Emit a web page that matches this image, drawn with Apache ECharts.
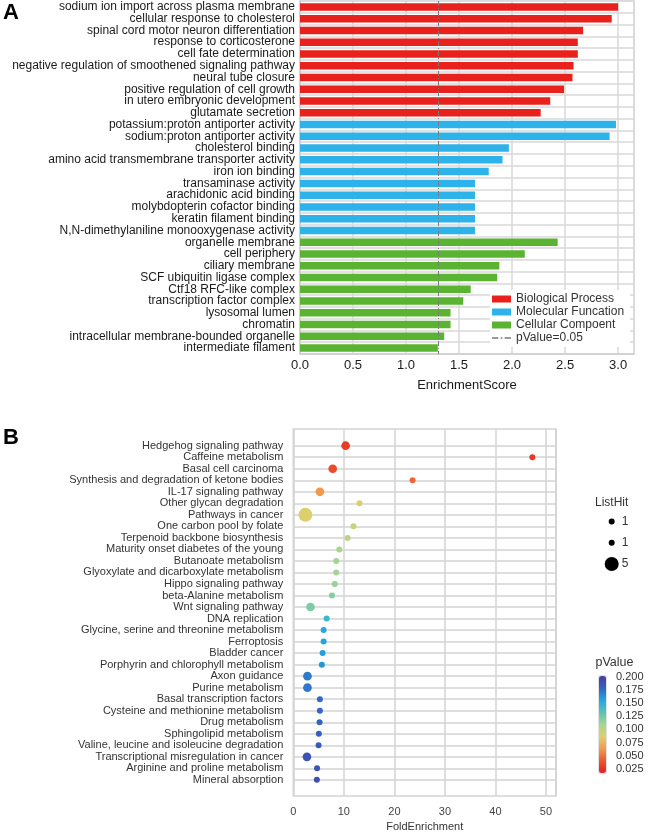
<!DOCTYPE html>
<html><head><meta charset="utf-8">
<script src="https://cdn.jsdelivr.net/npm/echarts@6/dist/echarts.min.js"></script>
<style>html,body{margin:0;padding:0;background:#fff}#c{width:660px;height:833px}</style>
</head><body><div id="c"></div>
<script>
// ---------- Panel A data ----------
const bpTerms = ['sodium ion import across plasma membrane','cellular response to cholesterol','spinal cord motor neuron differentiation','response to corticosterone','cell fate determination','negative regulation of smoothened signaling pathway','neural tube closure','positive regulation of cell growth','in utero embryonic development','glutamate secretion'];
const bpScores = [3.00, 2.94, 2.67, 2.62, 2.62, 2.58, 2.57, 2.49, 2.36, 2.27];
const mfTerms = ['potassium:proton antiporter activity','sodium:proton antiporter activity','cholesterol binding','amino acid transmembrane transporter activity','iron ion binding','transaminase activity','arachidonic acid binding','molybdopterin cofactor binding','keratin filament binding','N,N-dimethylaniline monooxygenase activity'];
const mfScores = [2.98, 2.92, 1.97, 1.91, 1.78, 1.65, 1.65, 1.65, 1.65, 1.65];
const ccTerms = ['organelle membrane','cell periphery','ciliary membrane','SCF ubiquitin ligase complex','Ctf18 RFC-like complex','transcription factor complex','lysosomal lumen','chromatin','intracellular membrane-bounded organelle','intermediate filament'];
const ccScores = [2.43, 2.12, 1.88, 1.86, 1.61, 1.54, 1.42, 1.42, 1.36, 1.30];
const groupNames = ['Biological Process','Molecular Funcation','Cellular Compoent'];
const pValueCutoff = 0.05;
const cutoffName = 'pValue=0.05';

// ---------- Panel B data ----------
const pathways = ['Hedgehog signaling pathway','Caffeine metabolism','Basal cell carcinoma','Synthesis and degradation of ketone bodies','IL-17 signaling pathway','Other glycan degradation','Pathways in cancer','One carbon pool by folate','Terpenoid backbone biosynthesis','Maturity onset diabetes of the young','Butanoate metabolism','Glyoxylate and dicarboxylate metabolism','Hippo signaling pathway','beta-Alanine metabolism','Wnt signaling pathway','DNA replication','Glycine, serine and threonine metabolism','Ferroptosis','Bladder cancer','Porphyrin and chlorophyll metabolism','Axon guidance','Purine metabolism','Basal transcription factors','Cysteine and methionine metabolism','Drug metabolism','Sphingolipid metabolism','Valine, leucine and isoleucine degradation','Transcriptional misregulation in cancer','Arginine and proline metabolism','Mineral absorption'];
const foldEnrichment = [10.35, 47.3, 7.8, 23.6, 5.26, 13.1, 2.4, 11.9, 10.75, 9.1, 8.5, 8.5, 8.2, 7.65, 3.4, 6.6, 6.0, 6.0, 5.8, 5.65, 2.8, 2.8, 5.26, 5.26, 5.2, 5.06, 5.0, 2.7, 4.7, 4.66];
const pValues = [0.030, 0.028, 0.036, 0.046, 0.063, 0.088, 0.086, 0.095, 0.100, 0.108, 0.112, 0.112, 0.115, 0.120, 0.123, 0.145, 0.155, 0.157, 0.160, 0.163, 0.172, 0.173, 0.178, 0.178, 0.180, 0.182, 0.184, 0.188, 0.190, 0.192];
const listHits = [2, 1, 2, 1, 2, 1, 5, 1, 1, 1, 1, 1, 1, 1, 2, 1, 1, 1, 1, 1, 2, 2, 1, 1, 1, 1, 1, 2, 1, 1];
const listHitLegendValues = [1, 1, 5];
const listHitLegendLabels = ['1', '1', '5'];

// ---------- helpers ----------
const FONT = '"Liberation Sans", Arial, Helvetica, sans-serif';
const termsA = bpTerms.concat(mfTerms, ccTerms);
function padded(values, offset) {
  return termsA.map((_, i) => (i >= offset && i < offset + values.length) ? values[i - offset] : '-');
}
function dotSize(v) { return 6.5 * Math.sqrt(v) - 0.5; }
const rowIdx = pathways.map((_, i) => i);
const gridColor = '#d9d9d9';
const cutLine = { color: '#7a7a7a', type: [5, 2, 1, 2], width: 1 };
const dashDotIcon = 'path://M0,3h6v1.3h-6zM8.2,3h1.6v1.3h-1.6zM12,3h6v1.3h-6z';

const chart = echarts.init(document.getElementById('c'), null, { renderer: 'canvas' });
chart.setOption({
  animation: false,
  textStyle: { fontFamily: FONT },
  title: [
    { text: 'A', left: 3, top: 2, padding: 0, textStyle: { fontSize: 22, fontWeight: 'bold', color: '#000', fontFamily: FONT } },
    { text: 'B', left: 3, top: 427, padding: 0, textStyle: { fontSize: 22, fontWeight: 'bold', color: '#000', fontFamily: FONT } },
    { text: 'ListHit', left: 595, top: 497, padding: 0, textStyle: { fontSize: 12, fontWeight: 'normal', color: '#333', fontFamily: FONT } },
    { text: 'pValue', left: 595.5, top: 656, padding: 0, textStyle: { fontSize: 12.5, fontWeight: 'normal', color: '#333', fontFamily: FONT } }
  ],
  legend: {
    orient: 'vertical', left: 490, top: 290, itemWidth: 19, itemHeight: 7, itemGap: 1,
    backgroundColor: '#fff', padding: [3, 6, 3, 2],
    textStyle: { fontSize: 12, color: '#333', lineHeight: 12, fontFamily: FONT },
    data: [
      { name: groupNames[0], icon: 'rect' },
      { name: groupNames[1], icon: 'rect' },
      { name: groupNames[2], icon: 'rect' },
      { name: cutoffName, icon: dashDotIcon }
    ]
  },
  grid: [
    { left: 300, top: 1, width: 334, height: 353, show: true, borderColor: gridColor, borderWidth: 1.5, backgroundColor: 'transparent' },
    { left: 293.3, top: 429, width: 262.8, height: 367, show: true, borderColor: '#d3d3d3', borderWidth: 1.5, backgroundColor: 'transparent' },
    { left: 605.7, top: 511, width: 12, height: 63.6 },
    { left: 606, top: 676.7, width: 1, height: 92.3 }
  ],
  xAxis: [
    { gridIndex: 0, type: 'value', min: 0, max: 3.15, interval: 0.5,
      axisLine: { show: true, lineStyle: { color: '#cfcfcf', width: 1.5 } }, axisTick: { show: false },
      axisLabel: { fontSize: 13, color: '#1a1a1a', margin: 5,
        formatter: v => (Math.abs(v * 2 - Math.round(v * 2)) < 1e-6 ? v.toFixed(1) : '') },
      splitLine: { show: true, lineStyle: { color: gridColor, width: 1.5 } },
      name: 'EnrichmentScore', nameLocation: 'middle', nameGap: 25,
      nameTextStyle: { fontSize: 13, color: '#1a1a1a' } },
    { gridIndex: 1, type: 'value', min: 0, max: 52, interval: 10,
      axisLine: { show: false }, axisTick: { show: false },
      axisLabel: { fontSize: 11, color: '#444', margin: 10,
        formatter: v => (v % 10 === 0 ? String(v) : '') },
      splitLine: { show: true, lineStyle: { color: '#d3d3d3', width: 1.5 } },
      name: 'FoldEnrichment', nameLocation: 'middle', nameGap: 25,
      nameTextStyle: { fontSize: 11, color: '#333' } },
    { gridIndex: 2, type: 'value', min: -1, max: 1, show: false },
    { gridIndex: 3, type: 'value', min: 0, max: 1, show: false }
  ],
  yAxis: [
    { gridIndex: 0, type: 'category', data: termsA, inverse: true,
      axisLine: { show: true, lineStyle: { color: '#cfcfcf', width: 1.5 } }, axisTick: { show: false },
      axisLabel: { interval: 0, fontSize: 12, color: '#1a1a1a', margin: 5 },
      splitLine: { show: true, interval: 0, lineStyle: { color: gridColor, width: 1.5 } } },
    { gridIndex: 1, type: 'value', inverse: true, min: -1.45, max: 30.4,
      axisLine: { show: false },
      axisTick: { show: false, customValues: rowIdx },
      axisLabel: { customValues: rowIdx, fontSize: 11, color: '#333', margin: 10,
        formatter: v => pathways[Math.round(v)] },
      splitLine: { show: true, lineStyle: { color: '#d3d3d3', width: 1.5 } } },
    { gridIndex: 2, type: 'value', inverse: true, min: -0.5, max: 2.5, position: 'right',
      axisLine: { show: false }, splitLine: { show: false },
      axisTick: { show: false, customValues: [0, 1, 2] },
      axisLabel: { customValues: [0, 1, 2], fontSize: 12, color: '#333', margin: 4,
        formatter: v => listHitLegendLabels[Math.round(v)] } },
    { gridIndex: 3, type: 'value', min: 0.025, max: 0.2, interval: 0.025, position: 'right',
      axisLine: { show: false }, splitLine: { show: false }, axisTick: { show: false },
      axisLabel: { fontSize: 11, color: '#333', margin: 9, formatter: v => v.toFixed(3) } }
  ],
  visualMap: [{
    type: 'continuous', seriesIndex: 4, dimension: 2,
    min: 0.0174, max: 0.2032, calculable: false, text: null, showLabel: false,
    left: 598.5, top: 675.5, itemWidth: 7, itemHeight: 97, padding: 0,
    borderColor: '#c4c4c4', borderWidth: 1,
    inRange: { color: ['#E31F1F', '#EE5530', '#F39A4E', '#DCD070', '#A6D68E', '#5BC3B6', '#22A7E0', '#3462C2', '#4B3C9B'] }
  }],
  series: [
    { name: groupNames[0], type: 'bar', xAxisIndex: 0, yAxisIndex: 0, data: padded(bpScores, 0),
      barWidth: 7.5, barGap: '-100%', itemStyle: { color: '#E8211D' } },
    { name: groupNames[1], type: 'bar', xAxisIndex: 0, yAxisIndex: 0, data: padded(mfScores, bpScores.length),
      barWidth: 7.5, barGap: '-100%', itemStyle: { color: '#2DB2E9' } },
    { name: groupNames[2], type: 'bar', xAxisIndex: 0, yAxisIndex: 0, data: padded(ccScores, bpScores.length + mfScores.length),
      barWidth: 7.5, barGap: '-100%', itemStyle: { color: '#5BB431' } },
    { name: cutoffName, type: 'bar', xAxisIndex: 0, yAxisIndex: 0, data: [],
      barWidth: 7.5, barGap: '-100%', itemStyle: { color: '#7a7a7a' },
      markLine: { silent: true, symbol: 'none', label: { show: false }, lineStyle: cutLine,
        data: [{ xAxis: -Math.log10(pValueCutoff) }] } },
    { name: 'KEGG', type: 'scatter', xAxisIndex: 1, yAxisIndex: 1,
      data: pathways.map((_, i) => [foldEnrichment[i], i, pValues[i], listHits[i]]),
      symbolSize: d => dotSize(d[3]), itemStyle: { opacity: 1 } },
    { name: 'ListHitLegend', type: 'scatter', xAxisIndex: 2, yAxisIndex: 2,
      data: listHitLegendValues.map((v, i) => [0, i, v]),
      symbolSize: d => dotSize(d[2]), itemStyle: { color: '#000', opacity: 1 } }
  ]
});
</script></body></html>
